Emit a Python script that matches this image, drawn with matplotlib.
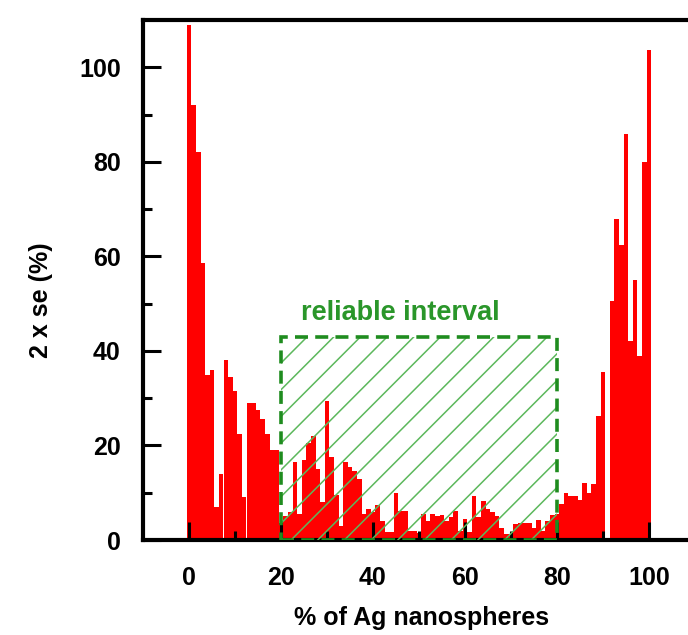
import numpy as np
import matplotlib
matplotlib.use("Agg")
from matplotlib import pyplot as plt
from matplotlib.patches import Rectangle

plt.rcParams['font.family'] = ['Liberation Sans', 'DejaVu Sans']
plt.rcParams['font.weight'] = 'bold'

# % of Ag nanospheres, 0..100
ag_pct = list(range(0, 101))
# 2 x se (%)
two_se = [
    109, 92, 82, 58.5, 35, 36, 7, 14, 38, 34.5,
    31.5, 22.5, 9, 29, 29, 27.5, 25.5, 22.5, 19, 19,
    3.5, 5, 6, 16.5, 5.5, 17, 20.5, 22, 15, 8,
    29.5, 17.5, 9.5, 3, 16.5, 15.5, 14.5, 13, 5.5, 6.5,
    6, 7.5, 4, 1.6, 1.6, 10, 6.2, 6.2, 2, 2,
    1.5, 5.4, 4.1, 5.4, 5, 5.2, 4.1, 4.8, 6.2, 2,
    4.5, 1.6, 9.4, 4.8, 8.2, 6.5, 5.9, 5, 2.5, 1.3,
    0.8, 3.4, 3.5, 3.5, 3.5, 2.5, 4.2, 1.8, 4.1, 5.2,
    5.5, 7.6, 9.9, 9.4, 9.4, 8.4, 12, 9.9, 11.9, 26.3,
    35.5, 0, 50.5, 67.8, 62.3, 85.8, 42, 55, 39, 80,
    103.6,
]

interval = (20, 80)      # reliable interval, x range
interval_top = 43
label_text = 'reliable interval'

green_dark = '#1f8c1f'
green_light = '#5cb85c'

fig = plt.figure(figsize=(6.88, 6.35), dpi=100, facecolor='white')
ax = fig.add_axes([143/688, 95/635, 552/688, 520/635])

ax.bar(ag_pct, two_se, width=1.0, color='red', linewidth=0, zorder=1)

# hatch of the reliable interval (45 deg lines, clipped to the box)
x0, x1 = interval
rect = Rectangle((x0, 0), x1 - x0, interval_top, facecolor='none',
                 edgecolor=green_dark, linewidth=2.6,
                 linestyle=(0, (3.6, 2.0)), zorder=4)
clip = Rectangle((x0, 0), x1 - x0, interval_top, facecolor='none',
                 edgecolor='none', transform=ax.transData)
ax.add_patch(clip)
slope = 0.975
step = 5.8
for xt in np.arange(x0 + 5.7 - 10 * step, x1 + 10 * step, step):
    xs = np.array([xt - interval_top / slope, xt])
    ys = np.array([0, interval_top])
    ln, = ax.plot(xs, ys, color=green_light, lw=1.1, zorder=3)
    ln.set_clip_path(clip)
ax.add_patch(rect)

ax.text(46, 48, label_text, color='#2a962a', fontsize=19.5,
        fontweight='bold', ha='center', va='center')

ax.set_xlim(-10, 110)
ax.set_ylim(0, 110)
ax.set_xticks([0, 20, 40, 60, 80, 100])
ax.set_xticks([10, 30, 50, 70, 90], minor=True)
ax.set_yticks([0, 20, 40, 60, 80, 100])
ax.set_yticks([10, 30, 50, 70, 90], minor=True)
ax.tick_params(which='major', direction='in', length=13, width=2.2,
               labelsize=18)
ax.tick_params(axis='x', which='major', pad=19)
ax.tick_params(axis='y', which='major', pad=16)
ax.tick_params(which='minor', direction='in', length=6.3, width=2.2)
ax.tick_params(top=False, right=False, which='both')
for s in ax.spines.values():
    s.set_linewidth(3)
ax.set_facecolor('white')

fig.text(41/688, 1 - 300/635, '2 x se (%)', rotation=90, fontsize=18,
         fontweight='bold', ha='center', va='center')
fig.text(422/688, 1 - 618/635, '% of Ag nanospheres', fontsize=18,
         fontweight='bold', ha='center', va='center')

fig.savefig('out.png', dpi=100, facecolor='white')
